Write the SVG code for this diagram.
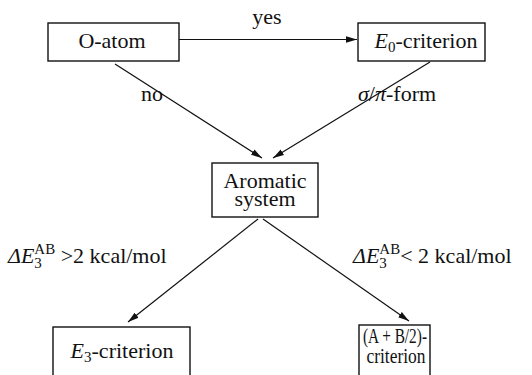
<svg xmlns="http://www.w3.org/2000/svg" width="532" height="375" viewBox="0 0 532 375" font-family="serif">
<defs>
<marker id="ah" markerWidth="12" markerHeight="8" refX="11" refY="4" orient="auto" markerUnits="userSpaceOnUse">
<path d="M0,0.8 L11,4 L0,7.2 Z" fill="#111"/>
</marker>
</defs>
<g id="connectors" stroke="#111" stroke-width="1.2" fill="none">
<line x1="179" y1="39.5" x2="357" y2="39.5" marker-end="url(#ah)"/>
<line x1="115" y1="64" x2="262" y2="158" marker-end="url(#ah)"/>
<line x1="430" y1="62" x2="273" y2="158" marker-end="url(#ah)"/>
<line x1="258" y1="219" x2="128" y2="322" marker-end="url(#ah)"/>
<line x1="263" y1="219" x2="409" y2="321" marker-end="url(#ah)"/>
</g>
<g id="labels">
<text x="267" y="24" text-anchor="middle" font-family="serif" font-size="22" fill="#111">yes</text>
<text x="152" y="101" text-anchor="middle" font-family="serif" font-size="22" fill="#111">no</text>
<text x="358" y="101" font-family="serif" font-size="22" fill="#111"><tspan font-style="italic">σ</tspan>/<tspan font-style="italic">π</tspan>-form</text>
<text x="8" y="263" font-family="serif" font-size="22" fill="#111"><tspan font-style="italic">ΔE</tspan><tspan font-size="15" dy="5">3</tspan><tspan font-size="15" dx="-7.5" dy="-14">AB</tspan><tspan dy="9"> &gt;2 kcal/mol</tspan></text>
<text x="353" y="263" font-family="serif" font-size="22" fill="#111"><tspan font-style="italic">ΔE</tspan><tspan font-size="15" dy="5">3</tspan><tspan font-size="15" dx="-7.5" dy="-14">AB</tspan><tspan dy="9">&lt; 2 kcal/mol</tspan></text>
</g>
<g id="o-atom">
<rect x="48" y="23" width="131" height="38" fill="#fff" stroke="#111" stroke-width="1.4"/>
<text x="112" y="48" text-anchor="middle" font-family="serif" font-size="22" fill="#111">O-atom</text>
</g>
<g id="e0-criterion">
<rect x="358" y="23" width="127" height="38" fill="#fff" stroke="#111" stroke-width="1.4"/>
<text x="426" y="48" text-anchor="middle" font-family="serif" font-size="22" fill="#111"><tspan font-style="italic">E</tspan><tspan font-size="15" dy="4">0</tspan><tspan dy="-4">-criterion</tspan></text>
</g>
<g id="aromatic">
<rect x="212" y="163" width="106" height="54" fill="#fff" stroke="#111" stroke-width="1.4"/>
<text x="265" y="188" text-anchor="middle" font-family="serif" font-size="22" fill="#111">Aromatic</text>
<text x="265" y="206" text-anchor="middle" font-family="serif" font-size="22" fill="#111">system</text>
</g>
<g id="e3-criterion">
<rect x="53" y="327" width="137" height="60" fill="#fff" stroke="#111" stroke-width="1.4"/>
<text x="122" y="358" text-anchor="middle" font-family="serif" font-size="22" fill="#111"><tspan font-style="italic">E</tspan><tspan font-size="15" dy="4">3</tspan><tspan dy="-4">-criterion</tspan></text>
</g>
<g id="ab-criterion">
<rect x="359" y="325" width="71" height="60" fill="#fff" stroke="#111" stroke-width="1.4"/>
<text x="395" y="343" text-anchor="middle" font-family="serif" font-size="20" fill="#111" textLength="64" lengthAdjust="spacingAndGlyphs">(A + B/2)-</text>
<text x="396" y="363" text-anchor="middle" font-family="serif" font-size="20" fill="#111" textLength="59" lengthAdjust="spacingAndGlyphs">criterion</text>
</g>
</svg>
